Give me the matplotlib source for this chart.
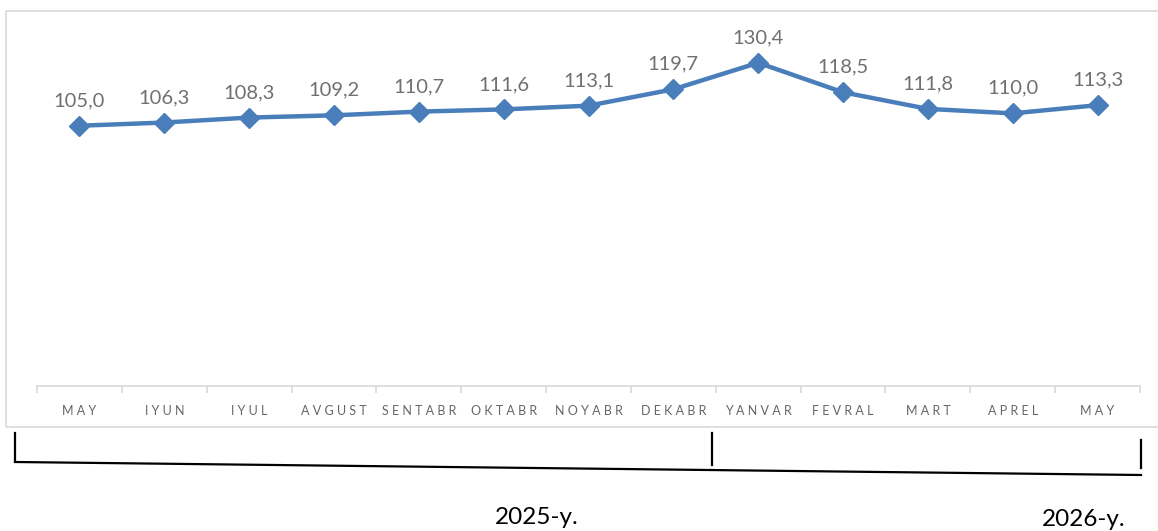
import numpy as np
import matplotlib
matplotlib.use('Agg')
import matplotlib.pyplot as plt
from matplotlib.patches import Rectangle
from matplotlib.lines import Line2D

months = ['MAY', 'IYUN', 'IYUL', 'AVGUST', 'SENTABR', 'OKTABR', 'NOYABR',
          'DEKABR', 'YANVAR', 'FEVRAL', 'MART', 'APREL', 'MAY']
values = [105.0, 106.3, 108.3, 109.2, 110.7, 111.6, 113.1,
          119.7, 130.4, 118.5, 111.8, 110.0, 113.3]
years = ['2025-y.', '2026-y.']

plt.rcParams['font.family'] = ['Lato', 'DejaVu Sans']

W, H = 1158, 531
fig = plt.figure(figsize=(W / 100, H / 100), dpi=100)

# frame of the chart area
fig.patches.append(Rectangle((6 / W, 1 - 427 / H), 1.2, (427 - 11) / H,
                             transform=fig.transFigure, fill=False,
                             edgecolor='#D9D9D9', linewidth=1.2))

ax = fig.add_axes([37 / W, 1 - 386 / H, (1140 - 37) / W, (386 - 39) / H])
x = np.arange(len(months))
ax.plot(x, values, color='#4A7EBB', linewidth=3.2, marker='D',
        markersize=10, markerfacecolor='#4A7EBB', markeredgecolor='#4A7EBB')
for xi, v in zip(x, values):
    ax.annotate(f'{v:.1f}'.replace('.', ','), (xi, v), xytext=(0, 18),
                textcoords='offset points', ha='center', va='center',
                fontsize=14.5, color='#707070')

ax.set_xlim(-0.5, len(months) - 0.5)
ax.set_ylim(0, 140)
ax.set_yticks([])
for s in ['top', 'right', 'left']:
    ax.spines[s].set_visible(False)
ax.spines['bottom'].set_color('#D9D9D9')
ax.spines['bottom'].set_linewidth(1.2)
ax.set_xticks(x)
ax.set_xticklabels([' '.join(m) for m in months], fontsize=9, color='#666666')
ax.tick_params(axis='x', which='major', length=0, pad=14)
ax.set_xticks(np.arange(-0.5, len(months)), minor=True)
ax.tick_params(axis='x', which='minor', length=5, color='#D9D9D9', width=1.2)

# bracket below the axis
def px_line(xs, ys, lw=1.6):
    fig.add_artist(Line2D([v / W for v in xs], [1 - v / H for v in ys],
                          transform=fig.transFigure, color='black', linewidth=lw))

px_line([15, 15], [433, 461])
px_line([15, 1141], [462, 475])
px_line([712, 712], [433, 465])
px_line([1141, 1141], [440, 468])

fig.text(537 / W, 1 - 518 / H, years[0], ha='center', va='center',
         fontsize=17.5, color='black')
fig.text(1084 / W, 1 - 520 / H, years[1], ha='center', va='center',
         fontsize=17.5, color='black')

fig.savefig('out.png', dpi=100)
